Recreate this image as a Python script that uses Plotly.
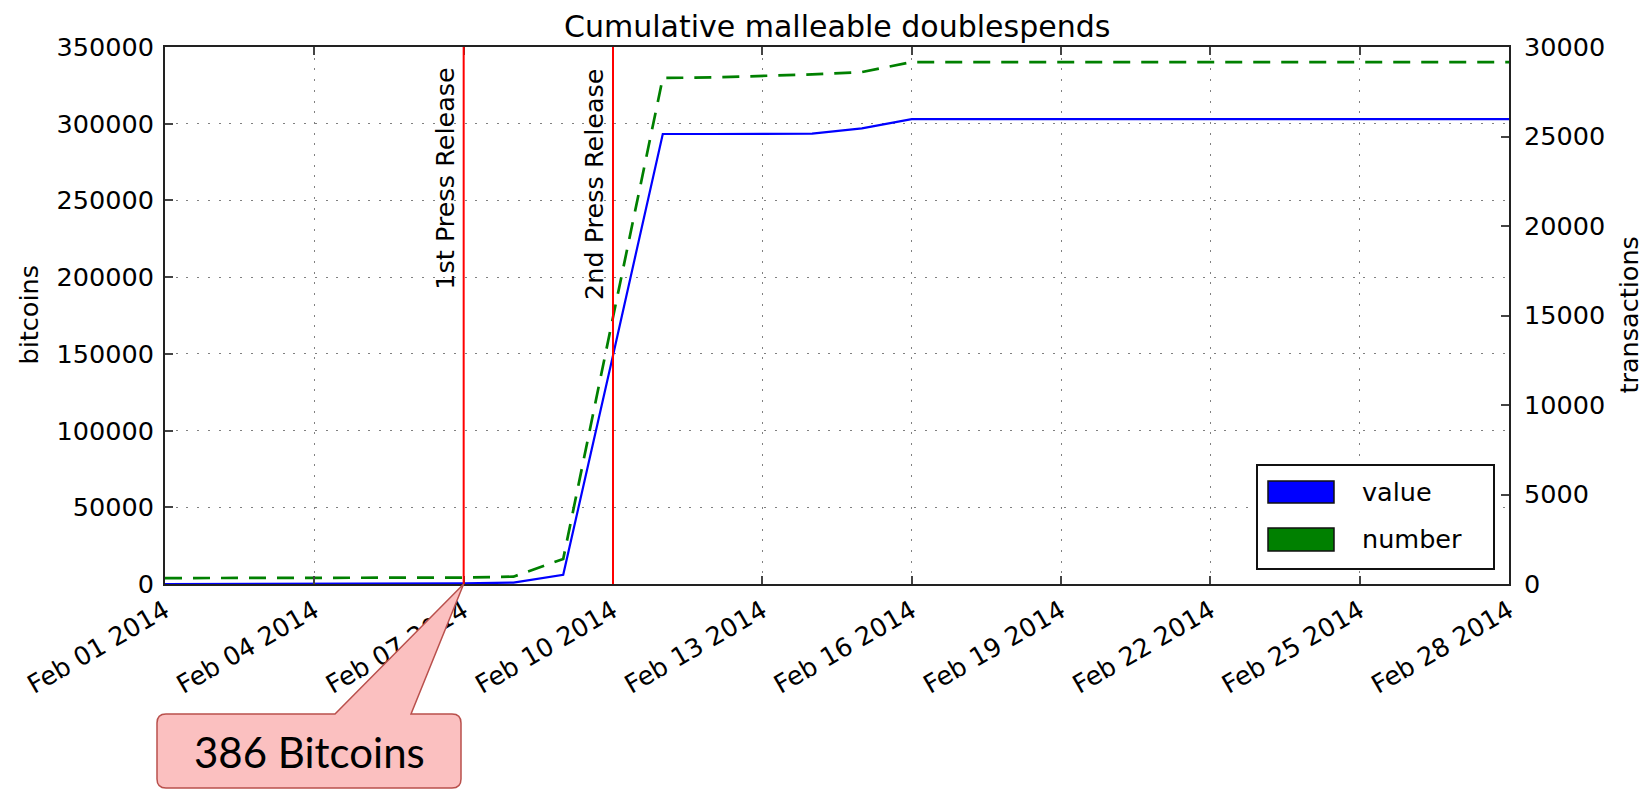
import plotly.graph_objects as go
import pandas as pd

# ---------------- data ----------------
dates = pd.date_range("2014-02-01", "2014-02-28", freq="D").strftime("%Y-%m-%d").tolist()

value_btc = [0, 0, 50, 100, 170, 260, 386, 900, 6000, 149000,
             293300, 293300, 293300, 293500, 297000, 303000,
             303000, 303000, 303000, 303000, 303000, 303000,
             303000, 303000, 303000, 303000, 303000, 303000]

number_tx = [330, 335, 340, 345, 350, 355, 360, 410, 1400, 14900,
             28270, 28300, 28380, 28470, 28600, 29160,
             29160, 29160, 29160, 29160, 29160, 29160,
             29160, 29160, 29160, 29160, 29160, 29160]

tick_dates = dates[::3]
tick_labels = [pd.Timestamp(d).strftime("%b %d %Y") for d in tick_dates]

press_dates = ["2014-02-07", "2014-02-10"]
press_labels = ["1st Press Release", "2nd Press Release"]

callout_text = "386 Bitcoins"
callout_date = press_dates[0]

series_names = ["value", "number"]
series_colors = ["#0000ff", "#008000"]

# ---------------- layout geometry (page pixel coordinates) ----------------
W, H = 1650, 790          # page
OFF = 8                   # default body margin of the html page
L, T = 165, 47            # plot area left/top on the page
RX, BY = 1509, 584        # plot area right/bottom on the page
PW = RX - L
PH = BY - T
FW, FH = W - OFF, H - OFF  # figure size
FONT = "DejaVu Sans"
FS = 25.5


def px(xp):
    return (xp - L) / PW


def py(yp):
    return (BY - yp) / PH


fig = go.Figure()
fig.add_trace(go.Scatter(x=dates, y=value_btc, mode="lines", name=series_names[0],
                         line=dict(color=series_colors[0], width=2.2), yaxis="y",
                         showlegend=False))
fig.add_trace(go.Scatter(x=dates, y=number_tx, mode="lines", name=series_names[1],
                         line=dict(color=series_colors[1], width=2.7, dash="17px,11px"),
                         yaxis="y2", showlegend=False))

shapes = []
annotations = []

# press release lines
for d, lab in zip(press_dates, press_labels):
    shapes.append(dict(type="line", xref="x", yref="paper", x0=d, x1=d, y0=0, y1=1,
                       line=dict(color="#ff0000", width=2), layer="above"))
    annotations.append(dict(x=d, xref="x", y=py(66), yref="paper", text=lab,
                            textangle=-90, xanchor="right", yanchor="top", xshift=-2,
                            showarrow=False, font=dict(family=FONT, size=FS, color="black")))

# axis titles
annotations.append(dict(x=px(28), y=0.5, xref="paper", yref="paper", text="bitcoins",
                        textangle=-90, showarrow=False, xanchor="center", yanchor="middle",
                        font=dict(family=FONT, size=FS, color="black")))
annotations.append(dict(x=px(1628), y=0.5, xref="paper", yref="paper", text="transactions",
                        textangle=-90, showarrow=False, xanchor="center", yanchor="middle",
                        font=dict(family=FONT, size=FS, color="black")))

# legend (drawn manually to get matplotlib-style patches)
shapes.append(dict(type="rect", xref="paper", yref="paper", x0=px(1257), x1=px(1494),
                   y0=py(569), y1=py(465), fillcolor="white", line=dict(color="#111", width=2)))
for nm, col, yt, yb, yc in zip(series_names, series_colors,
                               [481, 528], [503, 551], [492, 539]):
    shapes.append(dict(type="rect", xref="paper", yref="paper", x0=px(1268), x1=px(1334),
                       y0=py(yb), y1=py(yt), fillcolor=col, line=dict(color="#111", width=1.5)))
    annotations.append(dict(x=px(1360), y=py(yc), xref="paper", yref="paper", text=nm,
                            showarrow=False, xanchor="left", yanchor="middle",
                            font=dict(family=FONT, size=FS, color="black")))

# callout bubble
d0 = pd.Timestamp(dates[0])
d1 = pd.Timestamp(dates[-1])
tip_frac = (pd.Timestamp(callout_date) - d0) / (d1 - d0)
tip_x = L + tip_frac * PW
tip_y = BY
bx0, bx1, by0, by1, rr = 157, 461, 714, 788, 9
tb0, tb1 = 335, 411


def P(xp, yp):
    return f"{px(xp):.5f},{py(yp):.5f}"


path = (f"M {P(tip_x, tip_y)} L {P(tb1, by0)} L {P(bx1 - rr, by0)} "
        f"Q {P(bx1, by0)} {P(bx1, by0 + rr)} L {P(bx1, by1 - rr)} "
        f"Q {P(bx1, by1)} {P(bx1 - rr, by1)} L {P(bx0 + rr, by1)} "
        f"Q {P(bx0, by1)} {P(bx0, by1 - rr)} L {P(bx0, by0 + rr)} "
        f"Q {P(bx0, by0)} {P(bx0 + rr, by0)} L {P(tb0, by0)} Z")
shapes.append(dict(type="path", xref="paper", yref="paper", path=path,
                   fillcolor="#fbc0c0", line=dict(color="#b9504c", width=1.5), layer="above"))
annotations.append(dict(x=px((bx0 + bx1) / 2), y=py(752), xref="paper", yref="paper",
                        text=callout_text, showarrow=False, xanchor="center", yanchor="middle",
                        font=dict(family="Lato", size=42, color="black")))

axis_common = dict(ticks="inside", ticklen=8, tickwidth=1.5, tickcolor="#444",
                   showline=True, linecolor="#222", linewidth=2, zeroline=False,
                   tickfont=dict(family=FONT, size=FS, color="black"))

# title as a paper annotation so it stays inside the page
annotations.append(dict(x=0.5, y=py(7), xref="paper", yref="paper",
                        text="Cumulative malleable doublespends", showarrow=False,
                        xanchor="center", yanchor="top",
                        font=dict(family=FONT, size=30, color="black")))

fig.update_layout(
    width=FW, height=FH,
    margin=dict(l=L - OFF, r=FW - (RX - OFF), t=T - OFF, b=FH - (BY - OFF), autoexpand=False),
    paper_bgcolor="white", plot_bgcolor="white",
    showlegend=False,
    xaxis=dict(type="date", range=[dates[0], dates[-1]], tickvals=tick_dates,
               ticktext=tick_labels, tickangle=-30, mirror="ticks",
               showgrid=True, gridcolor="#808080", gridwidth=1.3, griddash="2px,8.7px",
               **axis_common),
    yaxis=dict(range=[0, 350000], dtick=50000, tickformat="d", mirror=True,
               showgrid=True, gridcolor="#808080", gridwidth=1.3, griddash="2px,8.7px",
               ticklabelstandoff=4, **axis_common),
    yaxis2=dict(range=[0, 30000], dtick=5000, tickformat="d", overlaying="y", side="right",
                showgrid=False, ticklabelstandoff=8, **axis_common),
    shapes=shapes,
    annotations=annotations,
)

fig.write_html("out.html")
